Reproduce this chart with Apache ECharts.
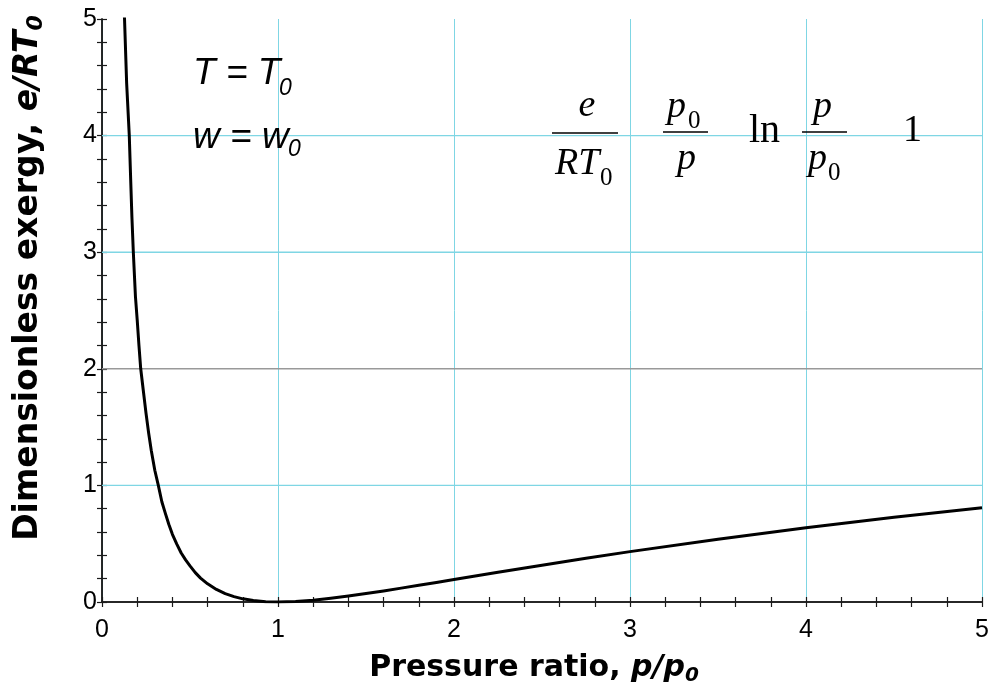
<!DOCTYPE html>
<html><head><meta charset="utf-8">
<script src="https://cdn.jsdelivr.net/npm/echarts@6/dist/echarts.min.js"></script>
<style>html,body{margin:0;padding:0;background:#fff}#c{width:992px;height:698px}</style>
</head><body><div id="c"></div>
<script>
// Values
const pressureRatio = [0.12, 0.128, 0.14, 0.155, 0.163, 0.17, 0.178, 0.19, 0.2, 0.21, 0.22, 0.235, 0.25, 0.265, 0.28, 0.3, 0.32, 0.34, 0.36, 0.38, 0.4, 0.425, 0.45, 0.475, 0.5, 0.53, 0.56, 0.6, 0.65, 0.7, 0.75, 0.8, 0.86, 0.93, 1.0, 1.1, 1.2, 1.3, 1.4, 1.5, 1.6, 1.7, 1.8, 1.9, 2.0, 2.25, 2.5, 2.75, 3.0, 3.5, 4.0, 4.5, 5.0];
const exergy = [5.25, 5.0, 4.45, 4.0, 3.62, 3.3, 3.0, 2.62, 2.42, 2.2, 2.0, 1.81, 1.62, 1.45, 1.30, 1.13, 1.0, 0.86, 0.76, 0.665, 0.58, 0.497, 0.42, 0.361, 0.31, 0.252, 0.205, 0.156, 0.108, 0.072, 0.046, 0.027, 0.012, 0.003, 0, 0.004, 0.016, 0.032, 0.051, 0.072, 0.095, 0.119, 0.143, 0.168, 0.193, 0.255, 0.316, 0.375, 0.432, 0.539, 0.636, 0.726, 0.809];
const cyanGridY = [1, 3, 4];
const grayGridY = [2];
const axisMin = 0, axisMax = 5, axisStep = 1;

const CYAN = '#7fd6e4';
const GRAY = '#999999';
const chart = echarts.init(document.getElementById('c'), null, {renderer: 'canvas'});

function tickCommon() {
  return {
    axisLine: {show: true, lineStyle: {color: '#1a1a1a', width: 1.5}},
    axisTick: {show: true, inside: true, length: 5, lineStyle: {color: '#1a1a1a', width: 1.2}},
    minorTick: {show: true, splitNumber: 5, length: 5, lineStyle: {color: '#1a1a1a', width: 1.2}}
  };
}

const serif = 'Liberation Serif';
const sans = 'Liberation Sans';
const titleFont = 'DejaVu Sans';
function txt(text, x, y, font, align) {
  return {type: 'text', x: x, y: y, silent: true, z: 50,
    style: {text: text, font: font, fill: '#000', align: align || 'left', verticalAlign: 'middle'}};
}
function bar(x1, x2, y) {
  return {type: 'line', silent: true, z: 50, shape: {x1: x1, y1: y, x2: x2, y2: y},
    style: {stroke: '#000', lineWidth: 1.5}};
}
const gridRows = cyanGridY.map(v => [v, 0]).concat(grayGridY.map(v => [v, 1]));

chart.setOption({
  animation: false,
  backgroundColor: '#fff',
  grid: {left: 102, right: 10, top: 19, bottom: 96, containLabel: false},
  xAxis: [Object.assign({
    type: 'value', min: axisMin, max: axisMax, interval: axisStep,
    axisLabel: {show: true, margin: 16, color: '#000', fontSize: 25, fontFamily: sans},
    splitLine: {show: true, lineStyle: {color: CYAN, width: 1}}
  }, tickCommon()), Object.assign({
    type: 'value', position: 'top', min: axisMin, max: axisMax, interval: axisStep,
    axisLabel: {show: false}, splitLine: {show: false}
  }, tickCommon())],
  yAxis: [Object.assign({
    type: 'value', min: axisMin, max: axisMax, interval: axisStep,
    axisLabel: {show: true, margin: 5, color: '#000', fontSize: 25, fontFamily: sans},
    splitLine: {show: false}
  }, tickCommon()), Object.assign({
    type: 'value', position: 'right', min: axisMin, max: axisMax, interval: axisStep,
    axisLabel: {show: false}, splitLine: {show: false}
  }, tickCommon())],
  series: [
    {
      type: 'custom',
      silent: true,
      z: 1,
      data: gridRows,
      renderItem: function (params, api) {
        const v = api.value(0);
        const a = api.coord([axisMin, v]);
        const b = api.coord([axisMax, v]);
        return {type: 'line', shape: {x1: a[0], y1: a[1], x2: b[0], y2: b[1]},
          style: {stroke: api.value(1) ? GRAY : CYAN, lineWidth: 1.4}};
      }
    },
    {
      type: 'line',
      data: pressureRatio.map((p, i) => [p, exergy[i]]),
      showSymbol: false,
      smooth: false,
      clip: true,
      lineStyle: {color: '#000', width: 3, join: 'round'},
      z: 10
    }
  ],
  graphic: [
    // axis titles
    {type: 'text', x: 534, y: 668, silent: true,
      style: {text: '{n|Pressure ratio, }{i|p/p}{s|0}', align: 'center', verticalAlign: 'middle',
        rich: {
          n: {fontFamily: titleFont, fontWeight: 'bold', fontSize: 30, lineHeight: 36, fill: '#000'},
          i: {fontFamily: titleFont, fontWeight: 'bold', fontStyle: 'italic', fontSize: 30, lineHeight: 36, fill: '#000'},
          s: {fontFamily: titleFont, fontWeight: 'bold', fontStyle: 'italic', fontSize: 20, lineHeight: 14, verticalAlign: 'bottom', fill: '#000'}
        }}},
    {type: 'text', x: 28, y: 278, rotation: Math.PI / 2, silent: true,
      style: {text: '{n|Dimensionless exergy, }{i|e/RT}{s|0}', align: 'center', verticalAlign: 'middle',
        rich: {
          n: {fontFamily: titleFont, fontWeight: 'bold', fontSize: 33, lineHeight: 38, fill: '#000'},
          i: {fontFamily: titleFont, fontWeight: 'bold', fontStyle: 'italic', fontSize: 33, lineHeight: 38, fill: '#000'},
          s: {fontFamily: titleFont, fontWeight: 'bold', fontStyle: 'italic', fontSize: 22, lineHeight: 14, verticalAlign: 'bottom', fill: '#000'}
        }}},
    // condition labels
    txt('T = T', 193, 73.5, 'italic 37px ' + sans),
    txt('0', 279, 89, 'italic 23px ' + sans),
    txt('w = w', 193, 137.5, 'italic 37px ' + sans),
    txt('0', 288, 150, 'italic 23px ' + sans),
    // formula
    txt('e', 587, 106.2, 'italic 38px ' + serif, 'center'),
    bar(552, 618, 133),
    txt('RT', 555, 164.2, 'italic 38px ' + serif),
    txt('0', 600, 178.6, '25px ' + serif),
    txt('p', 667, 107.2, 'italic 38px ' + serif),
    txt('0', 688, 121.6, '25px ' + serif),
    bar(663, 708, 132),
    txt('p', 677, 159.2, 'italic 38px ' + serif),
    txt('ln', 749, 131.5, '40px ' + serif),
    txt('p', 813, 107.2, 'italic 38px ' + serif),
    bar(802, 847, 132),
    txt('p', 808, 159.2, 'italic 38px ' + serif),
    txt('0', 828, 173.6, '25px ' + serif),
    txt('1', 903, 131.2, '38px ' + serif)
  ]
});
</script></body></html>
